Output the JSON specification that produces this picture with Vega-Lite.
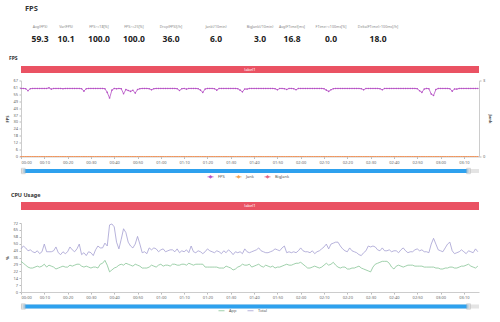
{
 "$schema": "https://vega.github.io/schema/vega-lite/v6.json",
 "background": "white",
 "padding": {"left": 5, "top": 4, "right": 4, "bottom": 0},
 "config": {
  "view": {"stroke": null},
  "font": "Noto Sans",
  "axis": {"labelFontSize": 4, "labelColor": "#666", "titleFontSize": 4, "titleColor": "#444", "titleFontWeight": "bold", "domainColor": "#ccc", "tickColor": "#bbb", "tickSize": 2, "labelPadding": 1.5, "grid": false, "titlePadding": 3, "labelOverlap": false},
  "legend": {"labelFontSize": 4, "labelColor": "#555", "symbolSize": 36, "symbolStrokeWidth": 0.8, "columnPadding": 8, "layout": {"bottom": {"anchor": "middle"}}},
  "title": {"fontSize": 5.5, "fontWeight": "bold", "color": "#333", "anchor": "start"}
 },
 "datasets": {
  "fps": [
{"t":0,"f":60,"j":0,"b":0},{"t":1,"f":60,"j":0,"b":0},{"t":2,"f":59.8,"j":0,"b":0},{"t":3,"f":58,"j":0,"b":0},{"t":4,"f":59.8,"j":0,"b":0},{"t":5,"f":60,"j":0,"b":0},{"t":6,"f":60,"j":0,"b":0},{"t":7,"f":60,"j":0,"b":0},{"t":8,"f":60,"j":0,"b":0},{"t":9,"f":60,"j":0,"b":0},
{"t":10,"f":60,"j":0,"b":0},{"t":11,"f":60,"j":0,"b":0},{"t":12,"f":60.5,"j":0,"b":0},{"t":13,"f":59.4,"j":0,"b":0},{"t":14,"f":60,"j":0,"b":0},{"t":15,"f":60,"j":0,"b":0},{"t":16,"f":60,"j":0,"b":0},{"t":17,"f":60,"j":0,"b":0},{"t":18,"f":59.8,"j":0,"b":0},{"t":19,"f":60,"j":0,"b":0},
{"t":20,"f":60,"j":0,"b":0},{"t":21,"f":60,"j":0,"b":0},{"t":22,"f":60,"j":0,"b":0},{"t":23,"f":60,"j":0,"b":0},{"t":24,"f":60,"j":0,"b":0},{"t":25,"f":60,"j":0,"b":0},{"t":26,"f":59.8,"j":0,"b":0},{"t":27,"f":57.6,"j":0,"b":0},{"t":28,"f":59.8,"j":0,"b":0},{"t":29,"f":60,"j":0,"b":0},
{"t":30,"f":60,"j":0,"b":0},{"t":31,"f":60,"j":0,"b":0},{"t":32,"f":60,"j":0,"b":0},{"t":33,"f":60,"j":0,"b":0},{"t":34,"f":60,"j":0,"b":0},{"t":35,"f":60,"j":0,"b":0},{"t":36,"f":59.8,"j":0,"b":0},{"t":37,"f":56.5,"j":0,"b":0},{"t":38,"f":51.5,"j":0,"b":0},{"t":39,"f":58.5,"j":0,"b":0},
{"t":40,"f":60,"j":0,"b":0},{"t":41,"f":59.7,"j":0,"b":0},{"t":42,"f":60,"j":0,"b":0},{"t":43,"f":59.8,"j":0,"b":0},{"t":44,"f":55.3,"j":0,"b":0},{"t":45,"f":59,"j":0,"b":0},{"t":46,"f":58.2,"j":0,"b":0},{"t":47,"f":57.4,"j":0,"b":0},{"t":48,"f":58.4,"j":0,"b":0},{"t":49,"f":55.9,"j":0,"b":0},
{"t":50,"f":59,"j":0,"b":0},{"t":51,"f":59.8,"j":0,"b":0},{"t":52,"f":60,"j":0,"b":0},{"t":53,"f":60,"j":0,"b":0},{"t":54,"f":60,"j":0,"b":0},{"t":55,"f":59.8,"j":0,"b":0},{"t":56,"f":58.8,"j":0,"b":0},{"t":57,"f":59.8,"j":0,"b":0},{"t":58,"f":60,"j":0,"b":0},{"t":59,"f":60,"j":0,"b":0},
{"t":60,"f":60,"j":0,"b":0},{"t":61,"f":60,"j":0,"b":0},{"t":62,"f":60,"j":0,"b":0},{"t":63,"f":60,"j":0,"b":0},{"t":64,"f":60,"j":0,"b":0},{"t":65,"f":60,"j":0,"b":0},{"t":66,"f":60,"j":0,"b":0},{"t":67,"f":59.8,"j":0,"b":0},{"t":68,"f":58.2,"j":0,"b":0},{"t":69,"f":59.8,"j":0,"b":0},
{"t":70,"f":60,"j":0,"b":0},{"t":71,"f":59.4,"j":0,"b":0},{"t":72,"f":60,"j":0,"b":0},{"t":73,"f":60,"j":0,"b":0},{"t":74,"f":60,"j":0,"b":0},{"t":75,"f":60,"j":0,"b":0},{"t":76,"f":59.8,"j":0,"b":0},{"t":77,"f":58.5,"j":0,"b":0},{"t":78,"f":56.5,"j":0,"b":0},{"t":79,"f":59.5,"j":0,"b":0},
{"t":80,"f":60,"j":0,"b":0},{"t":81,"f":60,"j":0,"b":0},{"t":82,"f":60,"j":0,"b":0},{"t":83,"f":59.8,"j":0,"b":0},{"t":84,"f":58.5,"j":0,"b":0},{"t":85,"f":60,"j":0,"b":0},{"t":86,"f":60,"j":0,"b":0},{"t":87,"f":60,"j":0,"b":0},{"t":88,"f":60,"j":0,"b":0},{"t":89,"f":60,"j":0,"b":0},
{"t":90,"f":60,"j":0,"b":0},{"t":91,"f":60,"j":0,"b":0},{"t":92,"f":60,"j":0,"b":0},{"t":93,"f":59.8,"j":0,"b":0},{"t":94,"f":58.5,"j":0,"b":0},{"t":95,"f":57,"j":0,"b":0},{"t":96,"f":59.5,"j":0,"b":0},{"t":97,"f":59.4,"j":0,"b":0},{"t":98,"f":60,"j":0,"b":0},{"t":99,"f":60,"j":0,"b":0},
{"t":100,"f":60,"j":0,"b":0},{"t":101,"f":60,"j":0,"b":0},{"t":102,"f":60,"j":0,"b":0},{"t":103,"f":60,"j":0,"b":0},{"t":104,"f":60,"j":0,"b":0},{"t":105,"f":60,"j":0,"b":0},{"t":106,"f":60,"j":0,"b":0},{"t":107,"f":60,"j":0,"b":0},{"t":108,"f":60,"j":0,"b":0},{"t":109,"f":59.8,"j":0,"b":0},
{"t":110,"f":58.8,"j":0,"b":0},{"t":111,"f":60,"j":0,"b":0},{"t":112,"f":60,"j":0,"b":0},{"t":113,"f":59.8,"j":0,"b":0},{"t":114,"f":59.1,"j":0,"b":0},{"t":115,"f":60,"j":0,"b":0},{"t":116,"f":60,"j":0,"b":0},{"t":117,"f":59.8,"j":0,"b":0},{"t":118,"f":58.8,"j":0,"b":0},{"t":119,"f":60,"j":0,"b":0},
{"t":120,"f":60,"j":0,"b":0},{"t":121,"f":60,"j":0,"b":0},{"t":122,"f":60,"j":0,"b":0},{"t":123,"f":60,"j":0,"b":0},{"t":124,"f":60,"j":0,"b":0},{"t":125,"f":60,"j":0,"b":0},{"t":126,"f":60,"j":0,"b":0},{"t":127,"f":60,"j":0,"b":0},{"t":128,"f":60,"j":0,"b":0},{"t":129,"f":60,"j":0,"b":0},
{"t":130,"f":59.8,"j":0,"b":0},{"t":131,"f":58.5,"j":0,"b":0},{"t":132,"f":57.4,"j":0,"b":0},{"t":133,"f":58.8,"j":0,"b":0},{"t":134,"f":59.8,"j":0,"b":0},{"t":135,"f":60,"j":0,"b":0},{"t":136,"f":60,"j":0,"b":0},{"t":137,"f":60,"j":0,"b":0},{"t":138,"f":60,"j":0,"b":0},{"t":139,"f":60,"j":0,"b":0},
{"t":140,"f":60,"j":0,"b":0},{"t":141,"f":60,"j":0,"b":0},{"t":142,"f":60,"j":0,"b":0},{"t":143,"f":60,"j":0,"b":0},{"t":144,"f":60,"j":0,"b":0},{"t":145,"f":60,"j":0,"b":0},{"t":146,"f":59.8,"j":0,"b":0},{"t":147,"f":58.8,"j":0,"b":0},{"t":148,"f":60,"j":0,"b":0},{"t":149,"f":60,"j":0,"b":0},
{"t":150,"f":60,"j":0,"b":0},{"t":151,"f":60,"j":0,"b":0},{"t":152,"f":60,"j":0,"b":0},{"t":153,"f":60,"j":0,"b":0},{"t":154,"f":59.8,"j":0,"b":0},{"t":155,"f":58.8,"j":0,"b":0},{"t":156,"f":60,"j":0,"b":0},{"t":157,"f":60,"j":0,"b":0},{"t":158,"f":60,"j":0,"b":0},{"t":159,"f":60,"j":0,"b":0},
{"t":160,"f":60,"j":0,"b":0},{"t":161,"f":60,"j":0,"b":0},{"t":162,"f":60,"j":0,"b":0},{"t":163,"f":60,"j":0,"b":0},{"t":164,"f":60,"j":0,"b":0},{"t":165,"f":60,"j":0,"b":0},{"t":166,"f":60,"j":0,"b":0},{"t":167,"f":60,"j":0,"b":0},{"t":168,"f":60,"j":0,"b":0},{"t":169,"f":60,"j":0,"b":0},
{"t":170,"f":59.8,"j":0,"b":0},{"t":171,"f":58,"j":0,"b":0},{"t":172,"f":56.5,"j":0,"b":0},{"t":173,"f":59.5,"j":0,"b":0},{"t":174,"f":60,"j":0,"b":0},{"t":175,"f":59.8,"j":0,"b":0},{"t":176,"f":55,"j":0,"b":0},{"t":177,"f":53.8,"j":0,"b":0},{"t":178,"f":59,"j":0,"b":0},{"t":179,"f":60,"j":0,"b":0},
{"t":180,"f":60,"j":0,"b":0},{"t":181,"f":60,"j":0,"b":0},{"t":182,"f":60,"j":0,"b":0},{"t":183,"f":60,"j":0,"b":0},{"t":184,"f":59.8,"j":0,"b":0},{"t":185,"f":57.6,"j":0,"b":0},{"t":186,"f":59.5,"j":0,"b":0},{"t":187,"f":59.4,"j":0,"b":0},{"t":188,"f":60,"j":0,"b":0},{"t":189,"f":60,"j":0,"b":0},
{"t":190,"f":60,"j":0,"b":0},{"t":191,"f":60,"j":0,"b":0},{"t":192,"f":60,"j":0,"b":0},{"t":193,"f":60,"j":0,"b":0},{"t":194,"f":60,"j":0,"b":0},{"t":195,"f":60,"j":0,"b":0},{"t":196,"f":60,"j":0,"b":0}
  ],
  "cpu": [
{"t":0,"App":32,"Total":45},{"t":1,"App":30,"Total":48},{"t":2,"App":28,"Total":46},{"t":3,"App":26,"Total":43},{"t":4,"App":25,"Total":44},{"t":5,"App":25,"Total":42},{"t":6,"App":26,"Total":41},{"t":7,"App":27,"Total":43},{"t":8,"App":26,"Total":40},{"t":9,"App":27,"Total":42},
{"t":10,"App":29,"Total":50},{"t":11,"App":26,"Total":42},{"t":12,"App":28,"Total":42},{"t":13,"App":27,"Total":42},{"t":14,"App":26,"Total":43},{"t":15,"App":24,"Total":47},{"t":16,"App":25,"Total":41},{"t":17,"App":26,"Total":39},{"t":18,"App":27,"Total":42},{"t":19,"App":26,"Total":40},
{"t":20,"App":26,"Total":42},{"t":21,"App":28,"Total":47},{"t":22,"App":27,"Total":44},{"t":23,"App":28,"Total":42},{"t":24,"App":29,"Total":45},{"t":25,"App":29,"Total":50},{"t":26,"App":27,"Total":39},{"t":27,"App":26,"Total":41},{"t":28,"App":27,"Total":38},{"t":29,"App":26,"Total":42},
{"t":30,"App":25,"Total":41},{"t":31,"App":26,"Total":38},{"t":32,"App":26,"Total":44},{"t":33,"App":25,"Total":48},{"t":34,"App":29,"Total":46},{"t":35,"App":30,"Total":46},{"t":36,"App":33,"Total":51},{"t":37,"App":28,"Total":48},{"t":38,"App":21,"Total":70},{"t":39,"App":23,"Total":71},
{"t":40,"App":25,"Total":68},{"t":41,"App":26,"Total":52},{"t":42,"App":28,"Total":45},{"t":43,"App":29,"Total":55},{"t":44,"App":28,"Total":66},{"t":45,"App":30,"Total":62},{"t":46,"App":29,"Total":52},{"t":47,"App":28,"Total":48},{"t":48,"App":27,"Total":46},{"t":49,"App":29,"Total":50},
{"t":50,"App":28,"Total":58},{"t":51,"App":27,"Total":50},{"t":52,"App":25,"Total":41},{"t":53,"App":25,"Total":42},{"t":54,"App":25,"Total":40},{"t":55,"App":26,"Total":46},{"t":56,"App":28,"Total":44},{"t":57,"App":27,"Total":46},{"t":58,"App":26,"Total":45},{"t":59,"App":28,"Total":42},
{"t":60,"App":29,"Total":44},{"t":61,"App":27,"Total":45},{"t":62,"App":28,"Total":42},{"t":63,"App":28,"Total":43},{"t":64,"App":27,"Total":44},{"t":65,"App":29,"Total":44},{"t":66,"App":29,"Total":42},{"t":67,"App":28,"Total":45},{"t":68,"App":28,"Total":41},{"t":69,"App":29,"Total":43},
{"t":70,"App":29,"Total":42},{"t":71,"App":28,"Total":44},{"t":72,"App":30,"Total":41},{"t":73,"App":29,"Total":48},{"t":74,"App":28,"Total":42},{"t":75,"App":29,"Total":41},{"t":76,"App":29,"Total":43},{"t":77,"App":29,"Total":42},{"t":78,"App":29,"Total":40},{"t":79,"App":26,"Total":42},
{"t":80,"App":26,"Total":45},{"t":81,"App":26,"Total":43},{"t":82,"App":26,"Total":42},{"t":83,"App":26,"Total":41},{"t":84,"App":26,"Total":43},{"t":85,"App":25,"Total":42},{"t":86,"App":25,"Total":40},{"t":87,"App":25,"Total":43},{"t":88,"App":27,"Total":41},{"t":89,"App":26,"Total":44},
{"t":90,"App":25,"Total":42},{"t":91,"App":23,"Total":39},{"t":92,"App":24,"Total":42},{"t":93,"App":26,"Total":41},{"t":94,"App":27,"Total":42},{"t":95,"App":29,"Total":40},{"t":96,"App":28,"Total":45},{"t":97,"App":28,"Total":42},{"t":98,"App":29,"Total":41},{"t":99,"App":26,"Total":42},
{"t":100,"App":27,"Total":43},{"t":101,"App":28,"Total":44},{"t":102,"App":29,"Total":46},{"t":103,"App":27,"Total":43},{"t":104,"App":26,"Total":42},{"t":105,"App":28,"Total":41},{"t":106,"App":27,"Total":41},{"t":107,"App":26,"Total":42},{"t":108,"App":27,"Total":43},{"t":109,"App":25,"Total":45},
{"t":110,"App":26,"Total":44},{"t":111,"App":26,"Total":43},{"t":112,"App":27,"Total":46},{"t":113,"App":28,"Total":48},{"t":114,"App":29,"Total":41},{"t":115,"App":28,"Total":42},{"t":116,"App":28,"Total":41},{"t":117,"App":29,"Total":42},{"t":118,"App":30,"Total":41},{"t":119,"App":30,"Total":43},
{"t":120,"App":31,"Total":46},{"t":121,"App":29,"Total":43},{"t":122,"App":27,"Total":42},{"t":123,"App":25,"Total":42},{"t":124,"App":25,"Total":41},{"t":125,"App":26,"Total":43},{"t":126,"App":27,"Total":40},{"t":127,"App":26,"Total":42},{"t":128,"App":25,"Total":43},{"t":129,"App":26,"Total":45},
{"t":130,"App":28,"Total":47},{"t":131,"App":30,"Total":50},{"t":132,"App":28,"Total":45},{"t":133,"App":29,"Total":50},{"t":134,"App":31,"Total":51},{"t":135,"App":28,"Total":52},{"t":136,"App":26,"Total":52},{"t":137,"App":25,"Total":48},{"t":138,"App":26,"Total":45},{"t":139,"App":26,"Total":43},
{"t":140,"App":24,"Total":42},{"t":141,"App":24,"Total":46},{"t":142,"App":25,"Total":43},{"t":143,"App":25,"Total":42},{"t":144,"App":26,"Total":41},{"t":145,"App":27,"Total":39},{"t":146,"App":25,"Total":38},{"t":147,"App":24,"Total":41},{"t":148,"App":23,"Total":43},{"t":149,"App":22,"Total":48},
{"t":150,"App":21,"Total":47},{"t":151,"App":26,"Total":48},{"t":152,"App":29,"Total":47},{"t":153,"App":30,"Total":44},{"t":154,"App":31,"Total":43},{"t":155,"App":32,"Total":46},{"t":156,"App":32,"Total":43},{"t":157,"App":32,"Total":43},{"t":158,"App":30,"Total":44},{"t":159,"App":26,"Total":42},
{"t":160,"App":24,"Total":43},{"t":161,"App":27,"Total":43},{"t":162,"App":28,"Total":41},{"t":163,"App":27,"Total":44},{"t":164,"App":26,"Total":46},{"t":165,"App":27,"Total":43},{"t":166,"App":28,"Total":41},{"t":167,"App":28,"Total":42},{"t":168,"App":28,"Total":42},{"t":169,"App":27,"Total":44},
{"t":170,"App":27,"Total":45},{"t":171,"App":27,"Total":43},{"t":172,"App":27,"Total":44},{"t":173,"App":26,"Total":42},{"t":174,"App":26,"Total":42},{"t":175,"App":26,"Total":41},{"t":176,"App":26,"Total":50},{"t":177,"App":26,"Total":56},{"t":178,"App":25,"Total":50},{"t":179,"App":25,"Total":44},
{"t":180,"App":24,"Total":43},{"t":181,"App":24,"Total":42},{"t":182,"App":25,"Total":46},{"t":183,"App":25,"Total":50},{"t":184,"App":26,"Total":52},{"t":185,"App":26,"Total":43},{"t":186,"App":25,"Total":40},{"t":187,"App":25,"Total":41},{"t":188,"App":26,"Total":42},{"t":189,"App":27,"Total":44},
{"t":190,"App":27,"Total":42},{"t":191,"App":28,"Total":40},{"t":192,"App":29,"Total":43},{"t":193,"App":27,"Total":42},{"t":194,"App":26,"Total":41},{"t":195,"App":25,"Total":45},{"t":196,"App":27,"Total":42}
  ]
 },
 "resolve": {"scale": {"color": "independent", "stroke": "independent"}},
 "spacing": 8,
 "vconcat": [
  {
   "title": {"text": "FPS", "fontSize": 7.5, "dx": 4, "offset": 6},
   "data": {"values": [
     {"i": 0, "label": "Avg(FPS)", "value": "59.3"},
     {"i": 1, "label": "Var(FPS)", "value": "10.1"},
     {"i": 2, "label": "FPS>=18[%]", "value": "100.0"},
     {"i": 3, "label": "FPS>=25[%]", "value": "100.0"},
     {"i": 4, "label": "Drop(FPS)[/h]", "value": "36.0"},
     {"i": 5, "label": "Jank(/10min)", "value": "6.0"},
     {"i": 6, "label": "BigJank(/10min)", "value": "3.0"},
     {"i": 7, "label": "Avg(FTime)[ms]", "value": "16.8"},
     {"i": 8, "label": "FTime>=100ms[%]", "value": "0.0"},
     {"i": 9, "label": "Delta(FTime)>100ms[/h]", "value": "18.0"}
   ]},
   "spacing": 0,
   "bounds": "flush",
   "hconcat": [
    {"width": 38, "height": 30, "transform": [{"filter": "datum.i == 0"}], "layer": [
      {"mark": {"type": "text", "fontSize": 3.6, "color": "#888"}, "encoding": {"text": {"field": "label"}, "y": {"datum": "l", "type": "nominal", "scale": {"type": "point", "domain": ["l", "v"], "padding": 0.75}, "axis": null}}},
      {"mark": {"type": "text", "fontSize": 8.5, "fontWeight": "bold", "color": "#222"}, "encoding": {"text": {"field": "value"}, "y": {"datum": "v", "type": "nominal"}}}]},
    {"width": 14, "height": 30, "transform": [{"filter": "datum.i == 1"}], "layer": [
      {"mark": {"type": "text", "fontSize": 3.6, "color": "#888"}, "encoding": {"text": {"field": "label"}, "y": {"datum": "l", "type": "nominal", "scale": {"type": "point", "domain": ["l", "v"], "padding": 0.75}, "axis": null}}},
      {"mark": {"type": "text", "fontSize": 8.5, "fontWeight": "bold", "color": "#222"}, "encoding": {"text": {"field": "value"}, "y": {"datum": "v", "type": "nominal"}}}]},
    {"width": 52, "height": 30, "transform": [{"filter": "datum.i == 2"}], "layer": [
      {"mark": {"type": "text", "fontSize": 3.6, "color": "#888"}, "encoding": {"text": {"field": "label"}, "y": {"datum": "l", "type": "nominal", "scale": {"type": "point", "domain": ["l", "v"], "padding": 0.75}, "axis": null}}},
      {"mark": {"type": "text", "fontSize": 8.5, "fontWeight": "bold", "color": "#222"}, "encoding": {"text": {"field": "value"}, "y": {"datum": "v", "type": "nominal"}}}]},
    {"width": 18, "height": 30, "transform": [{"filter": "datum.i == 3"}], "layer": [
      {"mark": {"type": "text", "fontSize": 3.6, "color": "#888"}, "encoding": {"text": {"field": "label"}, "y": {"datum": "l", "type": "nominal", "scale": {"type": "point", "domain": ["l", "v"], "padding": 0.75}, "axis": null}}},
      {"mark": {"type": "text", "fontSize": 8.5, "fontWeight": "bold", "color": "#222"}, "encoding": {"text": {"field": "value"}, "y": {"datum": "v", "type": "nominal"}}}]},
    {"width": 56, "height": 30, "transform": [{"filter": "datum.i == 4"}], "layer": [
      {"mark": {"type": "text", "fontSize": 3.6, "color": "#888"}, "encoding": {"text": {"field": "label"}, "y": {"datum": "l", "type": "nominal", "scale": {"type": "point", "domain": ["l", "v"], "padding": 0.75}, "axis": null}}},
      {"mark": {"type": "text", "fontSize": 8.5, "fontWeight": "bold", "color": "#222"}, "encoding": {"text": {"field": "value"}, "y": {"datum": "v", "type": "nominal"}}}]},
    {"width": 34, "height": 30, "transform": [{"filter": "datum.i == 5"}], "layer": [
      {"mark": {"type": "text", "fontSize": 3.6, "color": "#888"}, "encoding": {"text": {"field": "label"}, "y": {"datum": "l", "type": "nominal", "scale": {"type": "point", "domain": ["l", "v"], "padding": 0.75}, "axis": null}}},
      {"mark": {"type": "text", "fontSize": 8.5, "fontWeight": "bold", "color": "#222"}, "encoding": {"text": {"field": "value"}, "y": {"datum": "v", "type": "nominal"}}}]},
    {"width": 54, "height": 30, "transform": [{"filter": "datum.i == 6"}], "layer": [
      {"mark": {"type": "text", "fontSize": 3.6, "color": "#888"}, "encoding": {"text": {"field": "label"}, "y": {"datum": "l", "type": "nominal", "scale": {"type": "point", "domain": ["l", "v"], "padding": 0.75}, "axis": null}}},
      {"mark": {"type": "text", "fontSize": 8.5, "fontWeight": "bold", "color": "#222"}, "encoding": {"text": {"field": "value"}, "y": {"datum": "v", "type": "nominal"}}}]},
    {"width": 10, "height": 30, "transform": [{"filter": "datum.i == 7"}], "layer": [
      {"mark": {"type": "text", "fontSize": 3.6, "color": "#888"}, "encoding": {"text": {"field": "label"}, "y": {"datum": "l", "type": "nominal", "scale": {"type": "point", "domain": ["l", "v"], "padding": 0.75}, "axis": null}}},
      {"mark": {"type": "text", "fontSize": 8.5, "fontWeight": "bold", "color": "#222"}, "encoding": {"text": {"field": "value"}, "y": {"datum": "v", "type": "nominal"}}}]},
    {"width": 68, "height": 30, "transform": [{"filter": "datum.i == 8"}], "layer": [
      {"mark": {"type": "text", "fontSize": 3.6, "color": "#888"}, "encoding": {"text": {"field": "label"}, "y": {"datum": "l", "type": "nominal", "scale": {"type": "point", "domain": ["l", "v"], "padding": 0.75}, "axis": null}}},
      {"mark": {"type": "text", "fontSize": 8.5, "fontWeight": "bold", "color": "#222"}, "encoding": {"text": {"field": "value"}, "y": {"datum": "v", "type": "nominal"}}}]},
    {"width": 26, "height": 30, "transform": [{"filter": "datum.i == 9"}], "layer": [
      {"mark": {"type": "text", "fontSize": 3.6, "color": "#888"}, "encoding": {"text": {"field": "label"}, "y": {"datum": "l", "type": "nominal", "scale": {"type": "point", "domain": ["l", "v"], "padding": 0.75}, "axis": null}}},
      {"mark": {"type": "text", "fontSize": 8.5, "fontWeight": "bold", "color": "#222"}, "encoding": {"text": {"field": "value"}, "y": {"datum": "v", "type": "nominal"}}}]}
   ]
  },
  {
   "title": {"text": "FPS", "fontSize": 5, "dx": 3, "offset": 5},
   "spacing": 5.5,
   "vconcat": [
    {"width": 458, "height": 7, "data": {"values": [{"label": "label1"}]}, "layer": [
      {"mark": {"type": "rect", "color": "#ea5263"}, "encoding": {}},
      {"mark": {"type": "text", "color": "white", "fontSize": 4}, "encoding": {"text": {"field": "label"}}}]},
    {"spacing": 2.5, "vconcat": [
      {"width": 458, "height": 76, "data": {"name": "fps"},
       "encoding": {"x": {"field": "t", "type": "quantitative", "scale": {"domain": [0, 196.5], "nice": false, "zero": false}, "axis": {"title": null, "values": [0,10,20,30,40,50,60,70,80,90,100,110,120,130,140,150,160,170,180,190], "labelExpr": "utcFormat(datum.value*1000,'%M:%S')", "labelFlush": true}}},
       "layer": [
        {"mark": {"type": "line", "strokeWidth": 0.8, "point": {"size": 2.5, "filled": true}}, "encoding": {
          "y": {"field": "f", "type": "quantitative", "scale": {"domain": [0, 67], "nice": false}, "axis": {"title": "FPS", "values": [0,6.0909,12.1818,18.2727,24.3636,30.4545,36.5455,42.6364,48.7273,54.8182,60.9091,67], "format": ".0f"}},
          "color": {"datum": "FPS", "type": "nominal", "scale": {"domain": ["FPS", "Jank", "BigJank"], "range": ["#b54fc4", "#f3a14f", "#e2607f"]}, "legend": {"title": null, "orient": "bottom", "direction": "horizontal", "offset": -6.5, "padding": 4, "symbolType": "M-1,0H-0.4M0.4,0H1M0.4,0A0.4,0.4,0,1,1,-0.4,0A0.4,0.4,0,1,1,0.4,0"}}}},
        {"layer": [
          {"mark": {"type": "line", "strokeWidth": 0.5, "point": {"size": 1.5, "filled": true}}, "encoding": {
            "y": {"field": "b", "type": "quantitative", "scale": {"domain": [0, 3], "nice": false}, "axis": {"orient": "right", "title": "Jank", "values": [0, 1, 2, 3]}},
            "color": {"datum": "BigJank", "type": "nominal"}}},
          {"mark": {"type": "line", "strokeWidth": 0.5, "point": {"size": 1.5, "filled": true}}, "encoding": {
            "y": {"field": "j", "type": "quantitative"},
            "color": {"datum": "Jank", "type": "nominal"}}}
        ]}
       ],
       "resolve": {"scale": {"y": "independent"}}
      },
      {"width": 458, "height": 4, "data": {"values": [{"start": 1, "end": 192}]}, "layer": [
        {"mark": {"type": "rect", "color": "#e4e4e4"}, "encoding": {}},
        {"mark": {"type": "rect", "color": "#2ea1ee"}, "encoding": {"x": {"field": "start", "type": "quantitative", "scale": {"domain": [0, 196.5], "nice": false, "zero": false}, "axis": null}, "x2": {"field": "end"}}},
        {"mark": {"type": "point", "shape": "M-0.7,-1H0.7V1H-0.7Z", "size": 30, "filled": true, "color": "#dcdcdc", "stroke": "#a8a8a8", "strokeWidth": 0.5}, "encoding": {"x": {"field": "start", "type": "quantitative"}}},
        {"mark": {"type": "point", "shape": "M-0.7,-1H0.7V1H-0.7Z", "size": 30, "filled": true, "color": "#dcdcdc", "stroke": "#a8a8a8", "strokeWidth": 0.5}, "encoding": {"x": {"field": "end", "type": "quantitative"}}}
      ]}
    ]}
   ]
  },
  {
   "title": {"text": "CPU Usage", "fontSize": 5.5, "dx": 5, "offset": 4},
   "spacing": 11,
   "vconcat": [
    {"width": 458, "height": 8, "data": {"values": [{"label": "label1"}]}, "layer": [
      {"mark": {"type": "rect", "color": "#ea5263"}, "encoding": {}},
      {"mark": {"type": "text", "color": "white", "fontSize": 4}, "encoding": {"text": {"field": "label"}}}]},
    {"spacing": 2.5, "vconcat": [
      {"width": 458, "height": 69, "data": {"name": "cpu"},
       "transform": [{"fold": ["App", "Total"], "as": ["series", "v"]}],
       "mark": {"type": "line", "strokeWidth": 0.8},
       "encoding": {
         "x": {"field": "t", "type": "quantitative", "scale": {"domain": [0, 196.5], "nice": false, "zero": false}, "axis": {"title": null, "values": [0,10,20,30,40,50,60,70,80,90,100,110,120,130,140,150,160,170,180,190], "labelExpr": "utcFormat(datum.value*1000,'%M:%S')", "labelFlush": true}},
         "y": {"field": "v", "type": "quantitative", "scale": {"domain": [0, 72], "nice": false}, "axis": {"title": "%", "values": [0,7.2,14.4,21.6,28.8,36,43.2,50.4,57.6,64.8,72], "format": ".0f"}},
         "stroke": {"field": "series", "type": "nominal", "scale": {"domain": ["App", "Total"], "range": ["#86c495", "#a4a0d2"]}, "legend": {"title": null, "orient": "bottom", "direction": "horizontal", "offset": -5, "padding": 1, "symbolType": "stroke"}}
       }
      },
      {"width": 458, "height": 4, "data": {"values": [{"start": 1, "end": 192}]}, "layer": [
        {"mark": {"type": "rect", "color": "#e4e4e4"}, "encoding": {}},
        {"mark": {"type": "rect", "color": "#2ea1ee"}, "encoding": {"x": {"field": "start", "type": "quantitative", "scale": {"domain": [0, 196.5], "nice": false, "zero": false}, "axis": null}, "x2": {"field": "end"}}},
        {"mark": {"type": "point", "shape": "M-0.7,-1H0.7V1H-0.7Z", "size": 30, "filled": true, "color": "#dcdcdc", "stroke": "#a8a8a8", "strokeWidth": 0.5}, "encoding": {"x": {"field": "start", "type": "quantitative"}}},
        {"mark": {"type": "point", "shape": "M-0.7,-1H0.7V1H-0.7Z", "size": 30, "filled": true, "color": "#dcdcdc", "stroke": "#a8a8a8", "strokeWidth": 0.5}, "encoding": {"x": {"field": "end", "type": "quantitative"}}}
      ]}
    ]}
   ]
  }
 ]
}
